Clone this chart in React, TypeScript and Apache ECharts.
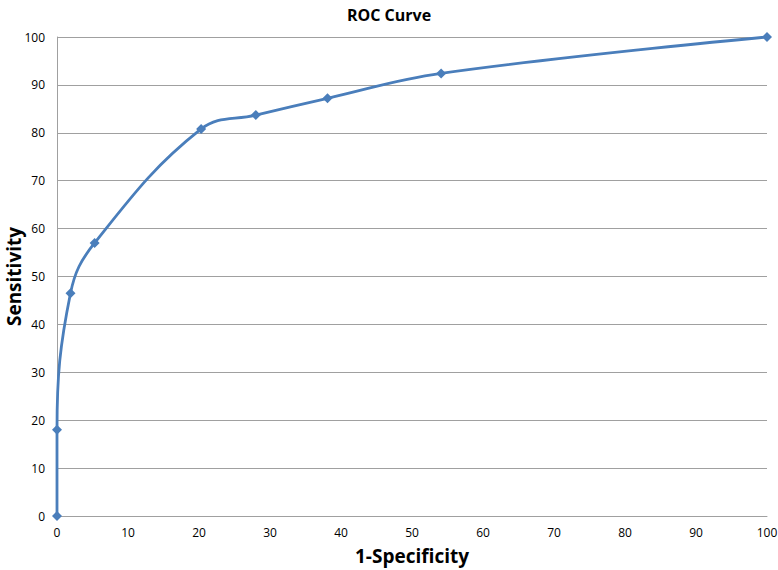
import React, { useEffect, useRef } from "react";
import * as echarts from "echarts";

const fpr = [0, 0, 1.9, 5.3, 20.3, 28.0, 38.1, 54.1, 100];
const sensitivity = [0, 18, 46.5, 57, 80.8, 83.7, 87.2, 92.4, 100];
const yTicks = [0, 10, 20, 30, 40, 50, 60, 70, 80, 90, 100];
const xTicks = [0, 10, 20, 30, 40, 50, 60, 70, 80, 90, 100];

export default function App() {
  const ref = useRef<HTMLDivElement>(null);
  useEffect(() => {
    if (!ref.current) return;
    const chart = echarts.init(ref.current, undefined, { renderer: "svg" });
    const font = "'Open Sans', 'Liberation Sans', sans-serif";
    chart.setOption({
      animation: false,
      backgroundColor: "#ffffff",
      title: {
        text: "ROC Curve",
        left: "center",
        top: 2,
        textStyle: { fontFamily: font, fontSize: 16, fontWeight: "bold", color: "#000" },
      },
      grid: { left: 57, right: 11, top: 37, bottom: 54, containLabel: false, outerBoundsMode: "none" },
      xAxis: {
        type: "value",
        min: xTicks[0],
        max: xTicks[xTicks.length - 1],
        interval: 10,
        name: "1-Specificity",
        nameLocation: "middle",
        nameGap: 30,
        nameMoveOverlap: false,
        nameTextStyle: { fontFamily: font, fontSize: 19, fontWeight: "bold", color: "#000" },
        axisLine: { show: true, lineStyle: { color: "#a0a0a0", width: 1 } },
        axisTick: { show: false },
        splitLine: { show: false },
        axisLabel: { fontFamily: font, fontSize: 12, color: "#000", margin: 10 },
      },
      yAxis: {
        type: "value",
        min: yTicks[0],
        max: yTicks[yTicks.length - 1],
        interval: 10,
        name: "Sensitivity",
        nameLocation: "middle",
        nameGap: 34,
        nameMoveOverlap: false,
        nameTextStyle: { fontFamily: font, fontSize: 19, fontWeight: "bold", color: "#000" },
        axisLine: { show: true, lineStyle: { color: "#a0a0a0", width: 1 } },
        axisTick: { show: false },
        splitLine: { show: true, lineStyle: { color: "#a0a0a0", width: 1 } },
        axisLabel: { fontFamily: font, fontSize: 12, color: "#000", margin: 12 },
      },
      series: [
        {
          type: "line",
          data: fpr.map((x, i) => [x, sensitivity[i]]),
          smooth: 0.4,
          symbol: "diamond",
          symbolSize: 10,
          lineStyle: { color: "#4a7ebb", width: 2.8 },
          itemStyle: { color: "#4a7ebb" },
        },
      ],
    });
    return () => chart.dispose();
  }, []);
  return (
    <div
      ref={ref}
      style={{ position: "fixed", left: 0, top: 0, width: 778, height: 570 }}
    />
  );
}
